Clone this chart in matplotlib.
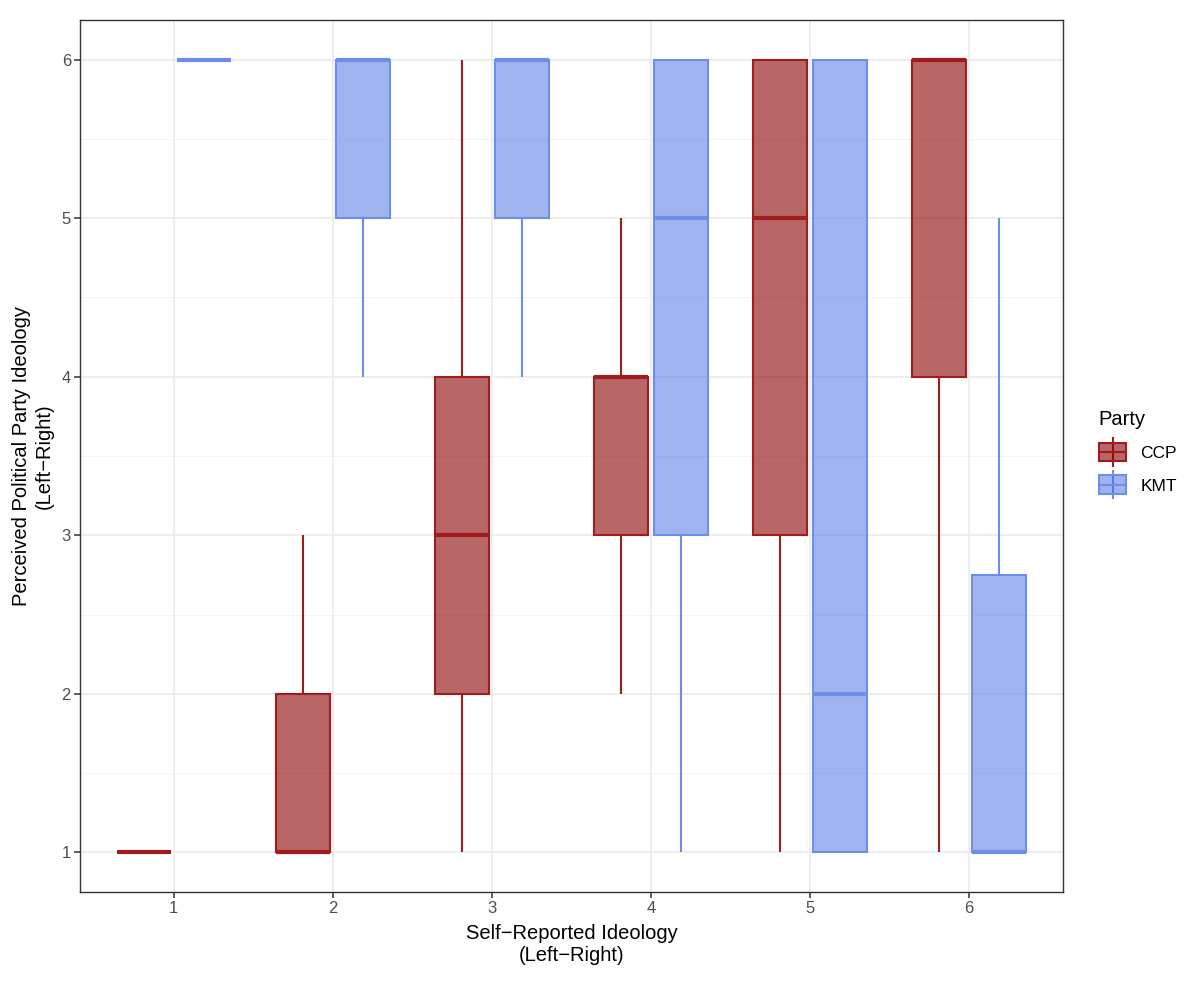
import matplotlib
matplotlib.use("Agg")
import matplotlib.pyplot as plt
from matplotlib.patches import Rectangle
from matplotlib.lines import Line2D
from matplotlib.legend_handler import HandlerBase

plt.rcParams['font.family'] = ['Liberation Sans', 'DejaVu Sans']

ideology = [1, 2, 3, 4, 5, 6]
parties = ["CCP", "KMT"]
# box stats: (whislo, q1, med, q3, whishi)
ccp_stats = [(1, 1, 1, 1, 1), (1, 1, 1, 2, 3), (1, 2, 3, 4, 6),
             (2, 3, 4, 4, 5), (1, 3, 5, 6, 6), (1, 4, 6, 6, 6)]
kmt_stats = [(6, 6, 6, 6, 6), (4, 5, 6, 6, 6), (4, 5, 6, 6, 6),
             (1, 3, 5, 6, 6), (1, 1, 2, 6, 6), (1, 1, 1, 2.75, 5)]
x_ticks = ["1", "2", "3", "4", "5", "6"]
y_ticks = [1, 2, 3, 4, 5, 6]

fills = {"CCP": ("#8B0000", 0.6), "KMT": ("#4169E1", 0.5)}
edges = {"CCP": "#A11D1D", "KMT": "#6E8EEC"}

fig = plt.figure(figsize=(12, 9.88), dpi=100)
ax = fig.add_axes([80/1200, 1-892/988, (1063-80)/1200, (892-20)/988])

ax.set_xlim(0.41, 6.59)
ax.set_ylim(0.75, 6.25)

for y in [1.5, 2.5, 3.5, 4.5, 5.5]:
    ax.axhline(y, color="#F2F2F2", lw=0.6, zorder=0)
for y in y_ticks:
    ax.axhline(y, color="#EBEBEB", lw=1.2, zorder=0)
for x in ideology:
    ax.axvline(x, color="#EBEBEB", lw=1.2, zorder=0)

offset = 0.1875
bw = 0.3375
for p, stats_list, off in [("CCP", ccp_stats, -offset), ("KMT", kmt_stats, offset)]:
    fc, a = fills[p]
    ec = edges[p]
    for xi, st in zip(ideology, stats_list):
        lo, q1, med, q3, hi = st
        c = xi + off
        ax.plot([c, c], [q3, hi], color=ec, lw=1.5, zorder=2, solid_capstyle='butt')
        ax.plot([c, c], [lo, q1], color=ec, lw=1.5, zorder=2, solid_capstyle='butt')
        ax.add_patch(Rectangle((c - bw/2, q1), bw, q3 - q1, facecolor=fc, alpha=a,
                               edgecolor='none', zorder=3))
        ax.add_patch(Rectangle((c - bw/2, q1), bw, q3 - q1, facecolor='none',
                               edgecolor=ec, lw=1.5, zorder=4))
        ax.plot([c - bw/2, c + bw/2], [med, med], color=ec, lw=3, zorder=5,
                solid_capstyle='butt')

ax.set_xticks(ideology)
ax.set_xticklabels(x_ticks)
ax.set_yticks(y_ticks)
ax.set_yticklabels([str(v) for v in y_ticks])
ax.tick_params(axis='both', colors="#333333", labelsize=12, length=4, width=1.1,
               labelcolor="#4D4D4D", pad=2.5)
for s in ax.spines.values():
    s.set_color("#333333")
    s.set_linewidth(1.0)

ax.set_xlabel("Self\u2212Reported Ideology\n(Left\u2212Right)", fontsize=14.5, labelpad=6)
ax.set_ylabel("Perceived Political Party Ideology\n(Left\u2212Right)", fontsize=14.5, labelpad=6)


class BoxHandler(HandlerBase):
    def create_artists(self, legend, orig_handle, xdescent, ydescent, width, height,
                       fontsize, trans):
        p = orig_handle.get_label()
        fc, a = fills[p]
        ec = edges[p]
        cx = width / 2 - xdescent
        arts = []
        arts.append(Line2D([cx, cx], [-ydescent - 0.22*height, -ydescent + 1.22*height],
                           color=ec, lw=1.5, transform=trans))
        arts.append(Rectangle((-xdescent, -ydescent), width, height, facecolor=fc,
                              alpha=a, edgecolor='none', transform=trans))
        arts.append(Rectangle((-xdescent, -ydescent), width, height, facecolor='none',
                              edgecolor=ec, lw=1.5, transform=trans))
        arts.append(Line2D([-xdescent, -xdescent + width],
                           [-ydescent + height/2, -ydescent + height/2],
                           color=ec, lw=1.5, transform=trans))
        return arts


handles = [Line2D([], [], label=p) for p in parties]
leg = fig.legend(handles=handles, labels=parties, handler_map={Line2D: BoxHandler()},
                 loc='upper left', bbox_to_anchor=(1083/1200, 1-394/988), frameon=False,
                 title="Party", title_fontsize=14.5, fontsize=12.5, handlelength=1.6,
                 handleheight=1.3, labelspacing=0.8, handletextpad=0.8)
leg._legend_box.align = "left"

fig.savefig("out.png", dpi=100)
